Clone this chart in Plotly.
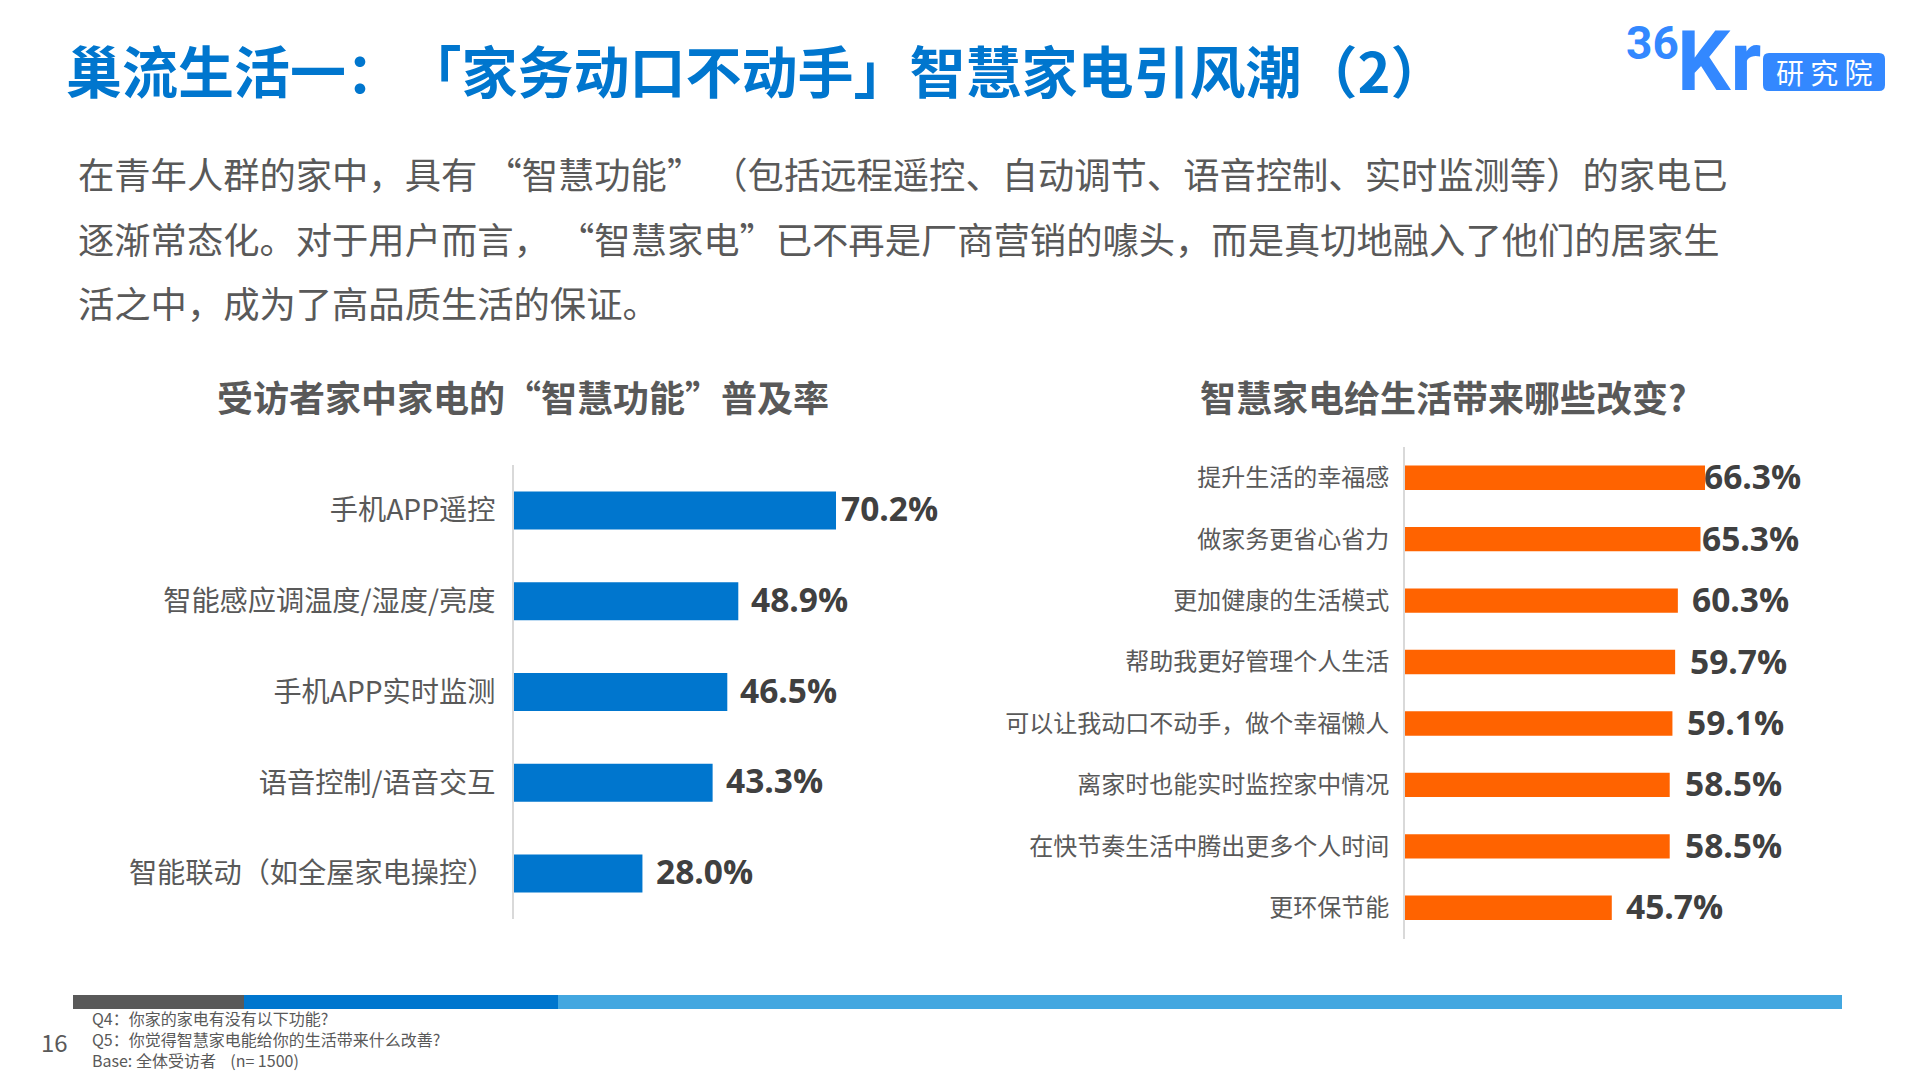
import plotly.graph_objects as go

W, H = 1920, 1080
CJK = "Noto Sans CJK SC"
LATIN = "Open Sans"
GREY = "#595959"
DARK = "#404040"
BLUE = "#0076CE"
ORANGE = "#FF6300"
LOGO = "#3388FF"

title_text = "巢流生活一：\u200a「家务动口不动手」智慧家电引风潮（2）"
body_lines = [
    "在青年人群的家中，具有 “智慧功能” （包括远程遥控、自动调节、语音控制、实时监测等）的家电已",
    "逐渐常态化。对于用户而言， “智慧家电”已不再是厂商营销的噱头，而是真切地融入了他们的居家生",
    "活之中，成为了高品质生活的保证。",
]
left_title = "受访者家中家电的“智慧功能”普及率"
right_title = "智慧家电给生活带来哪些改变?"

left_categories = ["手机APP遥控", "智能感应调温度/湿度/亮度", "手机APP实时监测", "语音控制/语音交互", "智能联动（如全屋家电操控）"]
left_values = [70.2, 48.9, 46.5, 43.3, 28.0]
left_label_gaps = [4, 12, 12, 12, 13]

right_categories = ["提升生活的幸福感", "做家务更省心省力", "更加健康的生活模式", "帮助我更好管理个人生活",
                    "可以让我动口不动手，做个幸福懒人", "离家时也能实时监控家中情况",
                    "在快节奏生活中腾出更多个人时间", "更环保节能"]
right_values = [66.3, 65.3, 60.3, 59.7, 59.1, 58.5, 58.5, 45.7]
right_label_gaps = [-2, 1, 13, 14, 14, 14, 14, 13]

footnotes = ["Q4：你家的家电有没有以下功能?", "Q5：你觉得智慧家电能给你的生活带来什么改善?",
             "Base: 全体受访者\u00a0\u00a0\u00a0\u00a0(n=\u00a01500)"]
page_number = "16"


def px(x):
    return x / W


def py(y):
    return 1 - y / H


fig = go.Figure()
fig.add_trace(go.Bar(x=left_values, y=left_categories, orientation="h", marker=dict(color=BLUE, line_width=0),
                     width=0.418, xaxis="x", yaxis="y", hoverinfo="skip"))
fig.add_trace(go.Bar(x=right_values, y=right_categories, orientation="h", marker=dict(color=ORANGE, line_width=0),
                     width=0.397, xaxis="x2", yaxis="y2", hoverinfo="skip"))

annotations = []


def text(x, y, s, size, color, anchor="left", bold=False, family=CJK):
    annotations.append(dict(xref="paper", yref="paper", x=px(x), y=py(y), text=f"<b>{s}</b>" if bold else s,
                            showarrow=False, xanchor=anchor, align="left" if anchor == "left" else "center",
                            yanchor="middle", borderpad=0, borderwidth=0,
                            font=dict(family=family, size=size, color=color)))


text(66, 68, title_text, 56, BLUE, bold=True)
for line, y in zip(body_lines, [172.5, 237.5, 302.5]):
    text(78, y, line, 36.3, GREY)
text(523, 396, left_title, 36, GREY, anchor="center", bold=True)
text(1443, 396, right_title, 36, GREY, anchor="center", bold=True)
text(92, 1039, "<br>".join(footnotes), 16, GREY)
text(54, 1041, page_number, 24, GREY, anchor="center")

for cats, vals, gaps, xa, ya, ys in [(left_categories, left_values, left_label_gaps, "x", "y", 2.5),
                                     (right_categories, right_values, right_label_gaps, "x2", "y2", 1.5)]:
    for c, v, g in zip(cats, vals, gaps):
        annotations.append(dict(xref=xa, yref=ya, x=v, y=c, text=f"<b>{v:.1f}%</b>", showarrow=False, xanchor="left",
                                yanchor="middle", xshift=g, yshift=ys, borderpad=0,
                                font=dict(family=LATIN, size=33.5, color=DARK)))

# logo
text(1626, 43, "36", 46, LOGO, bold=True, family="Roboto")
text(1677, 62, "Kr", 84, LOGO, bold=True, family="Roboto")
text(1824, 72, "研 究 院", 28, "#FFFFFF", anchor="center")

shapes = []
for x0, x1, col in [(73, 244, "#595959"), (244, 558, BLUE), (558, 1842, "#43A7E0")]:
    shapes.append(dict(type="rect", xref="paper", yref="paper", x0=px(x0), x1=px(x1), y0=py(1009), y1=py(995),
                       fillcolor=col, line_width=0, layer="below"))
bx0, bx1, by0, by1, r = 1763, 1885, 53, 91, 6
path = (f"M {px(bx0 + r)} {py(by0)} L {px(bx1 - r)} {py(by0)} Q {px(bx1)} {py(by0)} {px(bx1)} {py(by0 + r)} "
        f"L {px(bx1)} {py(by1 - r)} Q {px(bx1)} {py(by1)} {px(bx1 - r)} {py(by1)} "
        f"L {px(bx0 + r)} {py(by1)} Q {px(bx0)} {py(by1)} {px(bx0)} {py(by1 - r)} "
        f"L {px(bx0)} {py(by0 + r)} Q {px(bx0)} {py(by0)} {px(bx0 + r)} {py(by0)} Z")
shapes.append(dict(type="path", xref="paper", yref="paper", path=path, fillcolor=LOGO, line_width=0, layer="below"))


def yaxis(top, bottom, anchor, size, standoff):
    return dict(domain=[py(bottom), py(top)], type="category", autorange="reversed", anchor=anchor,
                showline=True, linecolor="#D9D9D9", linewidth=2, showgrid=False, zeroline=False, ticks="",
                ticklabelstandoff=standoff, tickfont=dict(family=CJK, size=size, color=GREY))


fig.update_layout(
    width=W, height=H, margin=dict(l=0, r=0, t=0, b=0), paper_bgcolor="white", plot_bgcolor="white",
    showlegend=False, font=dict(family=CJK),
    xaxis=dict(domain=[px(514), px(514 + 458.7)], range=[0, 100], visible=False, anchor="y"),
    yaxis=yaxis(465, 919, "x", 28.2, 11),
    xaxis2=dict(domain=[px(1405), px(1405 + 452.5)], range=[0, 100], visible=False, anchor="y2"),
    yaxis2=yaxis(447, 938.5, "x2", 24, 9),
    annotations=annotations, shapes=shapes,
)

fig.write_html("out.html", config=dict(displayModeBar=False),
               post_script="document.body.style.margin='0';document.body.style.overflow='hidden';")
